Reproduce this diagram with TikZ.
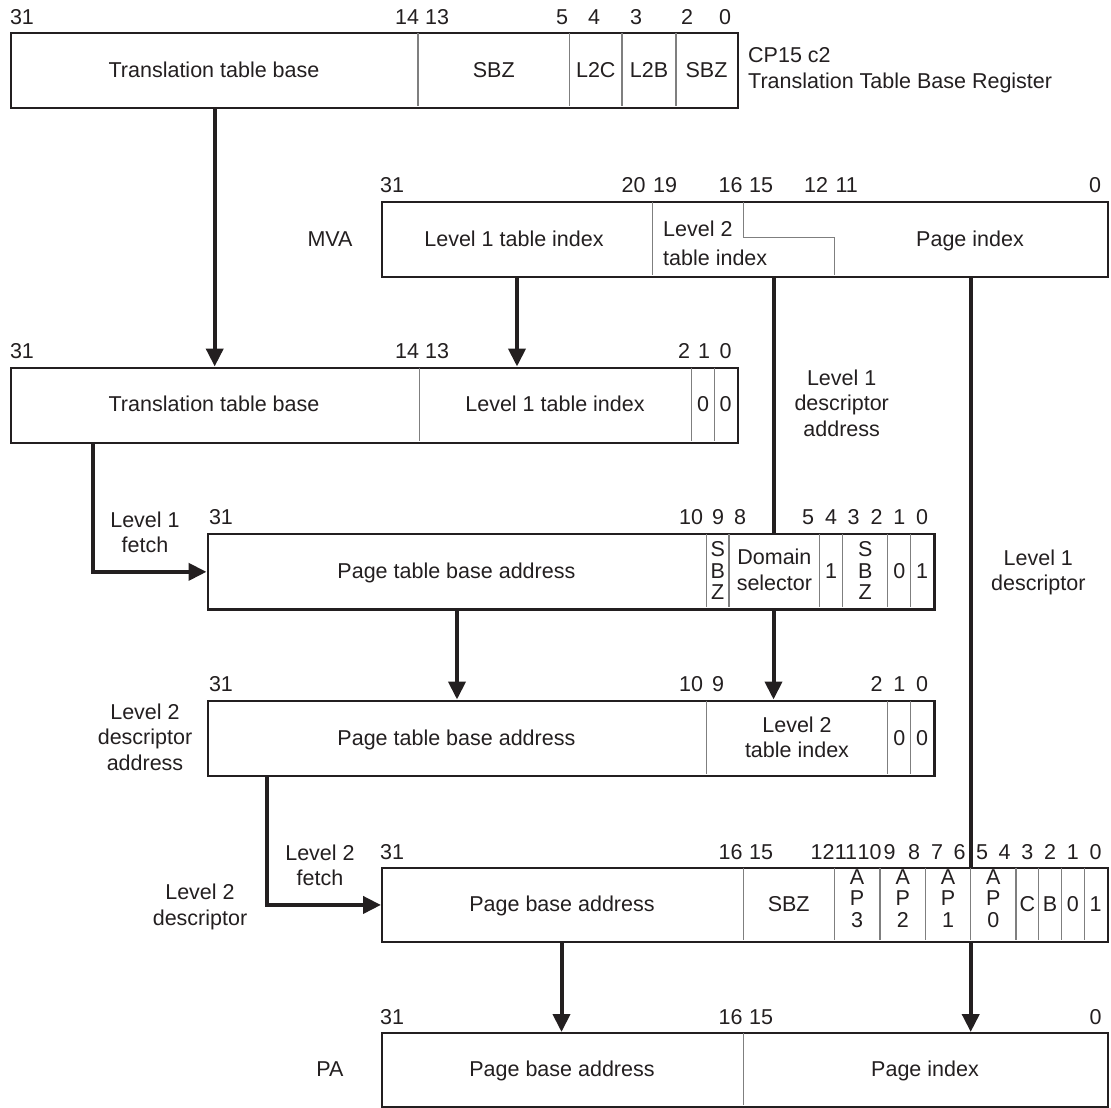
\documentclass[tikz,border=0pt]{standalone}
\usepackage{fontspec}
\setmainfont{Liberation Sans}
\usetikzlibrary{arrows.meta,backgrounds}
\definecolor{ink}{HTML}{231F20}
\definecolor{rulegray}{HTML}{7F7F7F}

\begin{document}
\begin{tikzpicture}[x=1pt,y=-1pt,
  font=\fontsize{21.5}{25.5}\selectfont, text=ink,
  reg/.style={draw=ink, line width=2.4pt, fill=white, rectangle, inner sep=0pt, anchor=north west},
  field/.style={draw=rulegray, line width=1.1pt, shorten <=1.2pt, shorten >=1.2pt},
  lbl/.style={inner sep=0pt, text height=15.5pt, text depth=0pt},
  multi/.style={inner sep=0pt, align=center},
  stack/.style={inner sep=0pt, align=center, font=\fontsize{21.5}{21.5}\selectfont},
  arr/.style={draw=ink, line width=4pt, -{Triangle[length=18pt,width=17pt]}},
]
\useasboundingbox (0,0) rectangle (1111,1108);

% ---------------- register outlines ----------------
\node[reg, minimum width=727pt,   minimum height=75pt]   (ttbr)   at (10,32)    {};
\node[reg, minimum width=725.5pt, minimum height=75.3pt] (mva)    at (381,200.7) {};
\node[reg, minimum width=727pt,   minimum height=75.2pt] (l1addr) at (10,366.5) {};
\node[reg, minimum width=726.8pt, minimum height=75.3pt] (l1desc) at (206.5,533) {};
\node[reg, minimum width=726.8pt, minimum height=75.5pt] (l2addr) at (206.5,699.5) {};
\node[reg, minimum width=725.5pt, minimum height=74.5pt] (l2desc) at (381,866.5) {};
\node[reg, minimum width=725.5pt, minimum height=74pt]   (pa)     at (381,1032) {};

% ---------------- field dividers ----------------
\foreach \x in {418,569.5,622,676} \draw[field] (\x,32) -- (\x,107);
\draw[field] (652.5,200.7) -- (652.5,276);
\draw[field] (743.3,200.7) -- (743.3,237.7) -- (834.1,237.7) -- (834.1,276);
\foreach \x in {419.2,691.6,714.3} \draw[field] (\x,366.5) -- (\x,441.7);
\foreach \x in {706.3,729,819.8,842.5,887.9,910.6} \draw[field] (\x,533) -- (\x,608.3);
\foreach \x in {706.3,887.9,910.6} \draw[field] (\x,699.5) -- (\x,775);
\foreach \x in {743.3,834.1,880,925.5,970.7,1016,1038.8,1061.5,1084.2} \draw[field] (\x,866.5) -- (\x,941);
\draw[field] (743.3,1032) -- (743.3,1106);

% ---------------- connectors (behind the registers) ----------------
\coordinate (xA) at (214.7,0);
\coordinate (xB) at (517,0);
\coordinate (xC) at (773.5,0);
\coordinate (xD) at (970.7,0);
\coordinate (xE) at (93.3,0);
\coordinate (xF) at (457,0);
\coordinate (xG) at (266.7,0);
\coordinate (xH) at (561.5,0);
\begin{pgfonlayer}{background}
  \draw[arr] (ttbr.south -| xA) -- (l1addr.north -| xA);
  \draw[arr] (mva.south -| xB) -- (l1addr.north -| xB);
  \draw[arr] (mva.south -| xC) -- (l2addr.north -| xC);
  \draw[arr] (mva.south -| xD) -- (pa.north -| xD);
  \draw[arr] (l1addr.south -| xE) |- (l1desc.west);
  \draw[arr] (l1desc.south -| xF) -- (l2addr.north -| xF);
  \draw[arr] (l2addr.south -| xG) |- (l2desc.west);
  \draw[arr] (l2desc.south -| xH) -- (pa.north -| xH);
\end{pgfonlayer}

% ---------------- bit numbers ----------------
\foreach \x/\n in {22/31,407/14,437/13,562/5,594/4,636/3,687/2,725/0}
  \node[lbl] (ba\n) at (\x,17) {\n};
\foreach \x/\n in {392/31,633.5/20,665/19,730.5/16,761/15,816/12,846.7/11,1095/0}
  \node[lbl] (bb\n) at (\x,185) {\n};
\foreach \x/\n in {22/31,407/14,437/13,684/2,704/1,725.7/0}
  \node[lbl] (bc\n) at (\x,350.5) {\n};
\foreach \x/\n in {221/31,691/10,718/9,740/8,808/5,831/4,853.5/3,876.5/2,899.3/1,922/0}
  \node[lbl] (bd\n) at (\x,517) {\n};
\foreach \x/\n in {221/31,691/10,718/9,876.5/2,899.3/1,922/0}
  \node[lbl] (be\n) at (\x,684) {\n};
\foreach \x/\n in {392/31,730.5/16,761/15,822.5/12,846/11,869.5/10,889.5/9,914/8,937/7,959.5/6,982/5,1004.6/4,1027.4/3,1050/2,1072.8/1,1095.5/0}
  \node[lbl] (bf\n) at (\x,851.5) {\n};
\foreach \x/\n in {392/31,730.5/16,761/15,1095.5/0}
  \node[lbl] (bg\n) at (\x,1017) {\n};

% ---------------- CP15 c2 ----------------
\node[lbl] (f1a) at (214,69.5) {Translation table base};
\node[lbl] (f1b) at (493.8,69.5) {SBZ};
\node[lbl] (f1c) at (595.8,69.5) {L2C};
\node[lbl] (f1d) at (649,69.5) {L2B};
\node[lbl] (f1e) at (706.5,69.5) {SBZ};
\node[multi, align=left, anchor=west] (cp15) at (748,70) {CP15 c2\\Translation Table Base Register};

% ---------------- MVA ----------------
\node[lbl] (mvaname) at (330,238.4) {MVA};
\node[lbl] (f2a) at (514,238.4) {Level 1 table index};
\node[multi, align=left, anchor=west] (f2b) at (663,243.3) {Level 2\\[3pt]table index};
\node[lbl] (f2c) at (970,238.4) {Page index};

% ---------------- level 1 descriptor address ----------------
\node[lbl] (f3a) at (214,404) {Translation table base};
\node[lbl] (f3b) at (555,404) {Level 1 table index};
\node[lbl] (f3c) at (703,404) {0};
\node[lbl] (f3d) at (725.7,404) {0};
\node[multi] (l1addrname) at (841.7,403) {Level 1\\descriptor\\address};

% ---------------- level 1 descriptor ----------------
\node[multi] (l1fetch) at (145,532.5) {Level 1\\fetch};
\node[lbl] (f4a) at (456.4,570.7) {Page table base address};
\node[stack] (f4b) at (717.7,570.5) {S\\B\\Z};
\node[multi] (f4c) at (774.4,570) {Domain\\selector};
\node[lbl] (f4d) at (831.2,570.7) {1};
\node[stack] (f4e) at (865.2,570.5) {S\\B\\Z};
\node[lbl] (f4f) at (899.3,570.7) {0};
\node[lbl] (f4g) at (922,570.7) {1};
\node[multi] (l1descname) at (1038.3,572.2) {Level 1\\descriptor};

% ---------------- level 2 descriptor address ----------------
\node[multi] (l2addrname) at (145,737.2) {Level 2\\descriptor\\address};
\node[lbl] (f5a) at (456.4,737.3) {Page table base address};
\node[multi] (f5b) at (797,737.3) {Level 2\\table index};
\node[lbl] (f5c) at (899.3,737.3) {0};
\node[lbl] (f5d) at (922,737.3) {0};

% ---------------- level 2 descriptor ----------------
\node[multi] (l2fetch) at (320,865.3) {Level 2\\fetch};
\node[multi] (l2descname) at (200,906.7) {Level 2\\descriptor};
\node[lbl] (f6a) at (562,903.7) {Page base address};
\node[lbl] (f6b) at (788.7,903.7) {SBZ};
\node[stack] (f6c) at (857,898.3) {A\\P\\3};
\node[stack] (f6d) at (902.8,898.3) {A\\P\\2};
\node[stack] (f6e) at (948.1,898.3) {A\\P\\1};
\node[stack] (f6f) at (993.4,898.3) {A\\P\\0};
\node[lbl] (f6g) at (1027.4,903.7) {C};
\node[lbl] (f6h) at (1050.1,903.7) {B};
\node[lbl] (f6i) at (1072.8,903.7) {0};
\node[lbl] (f6j) at (1095.5,903.7) {1};

% ---------------- PA ----------------
\node[lbl] (paname) at (330,1069) {PA};
\node[lbl] (f7a) at (562,1069) {Page base address};
\node[lbl] (f7b) at (925,1069) {Page index};

\end{tikzpicture}
\end{document}
